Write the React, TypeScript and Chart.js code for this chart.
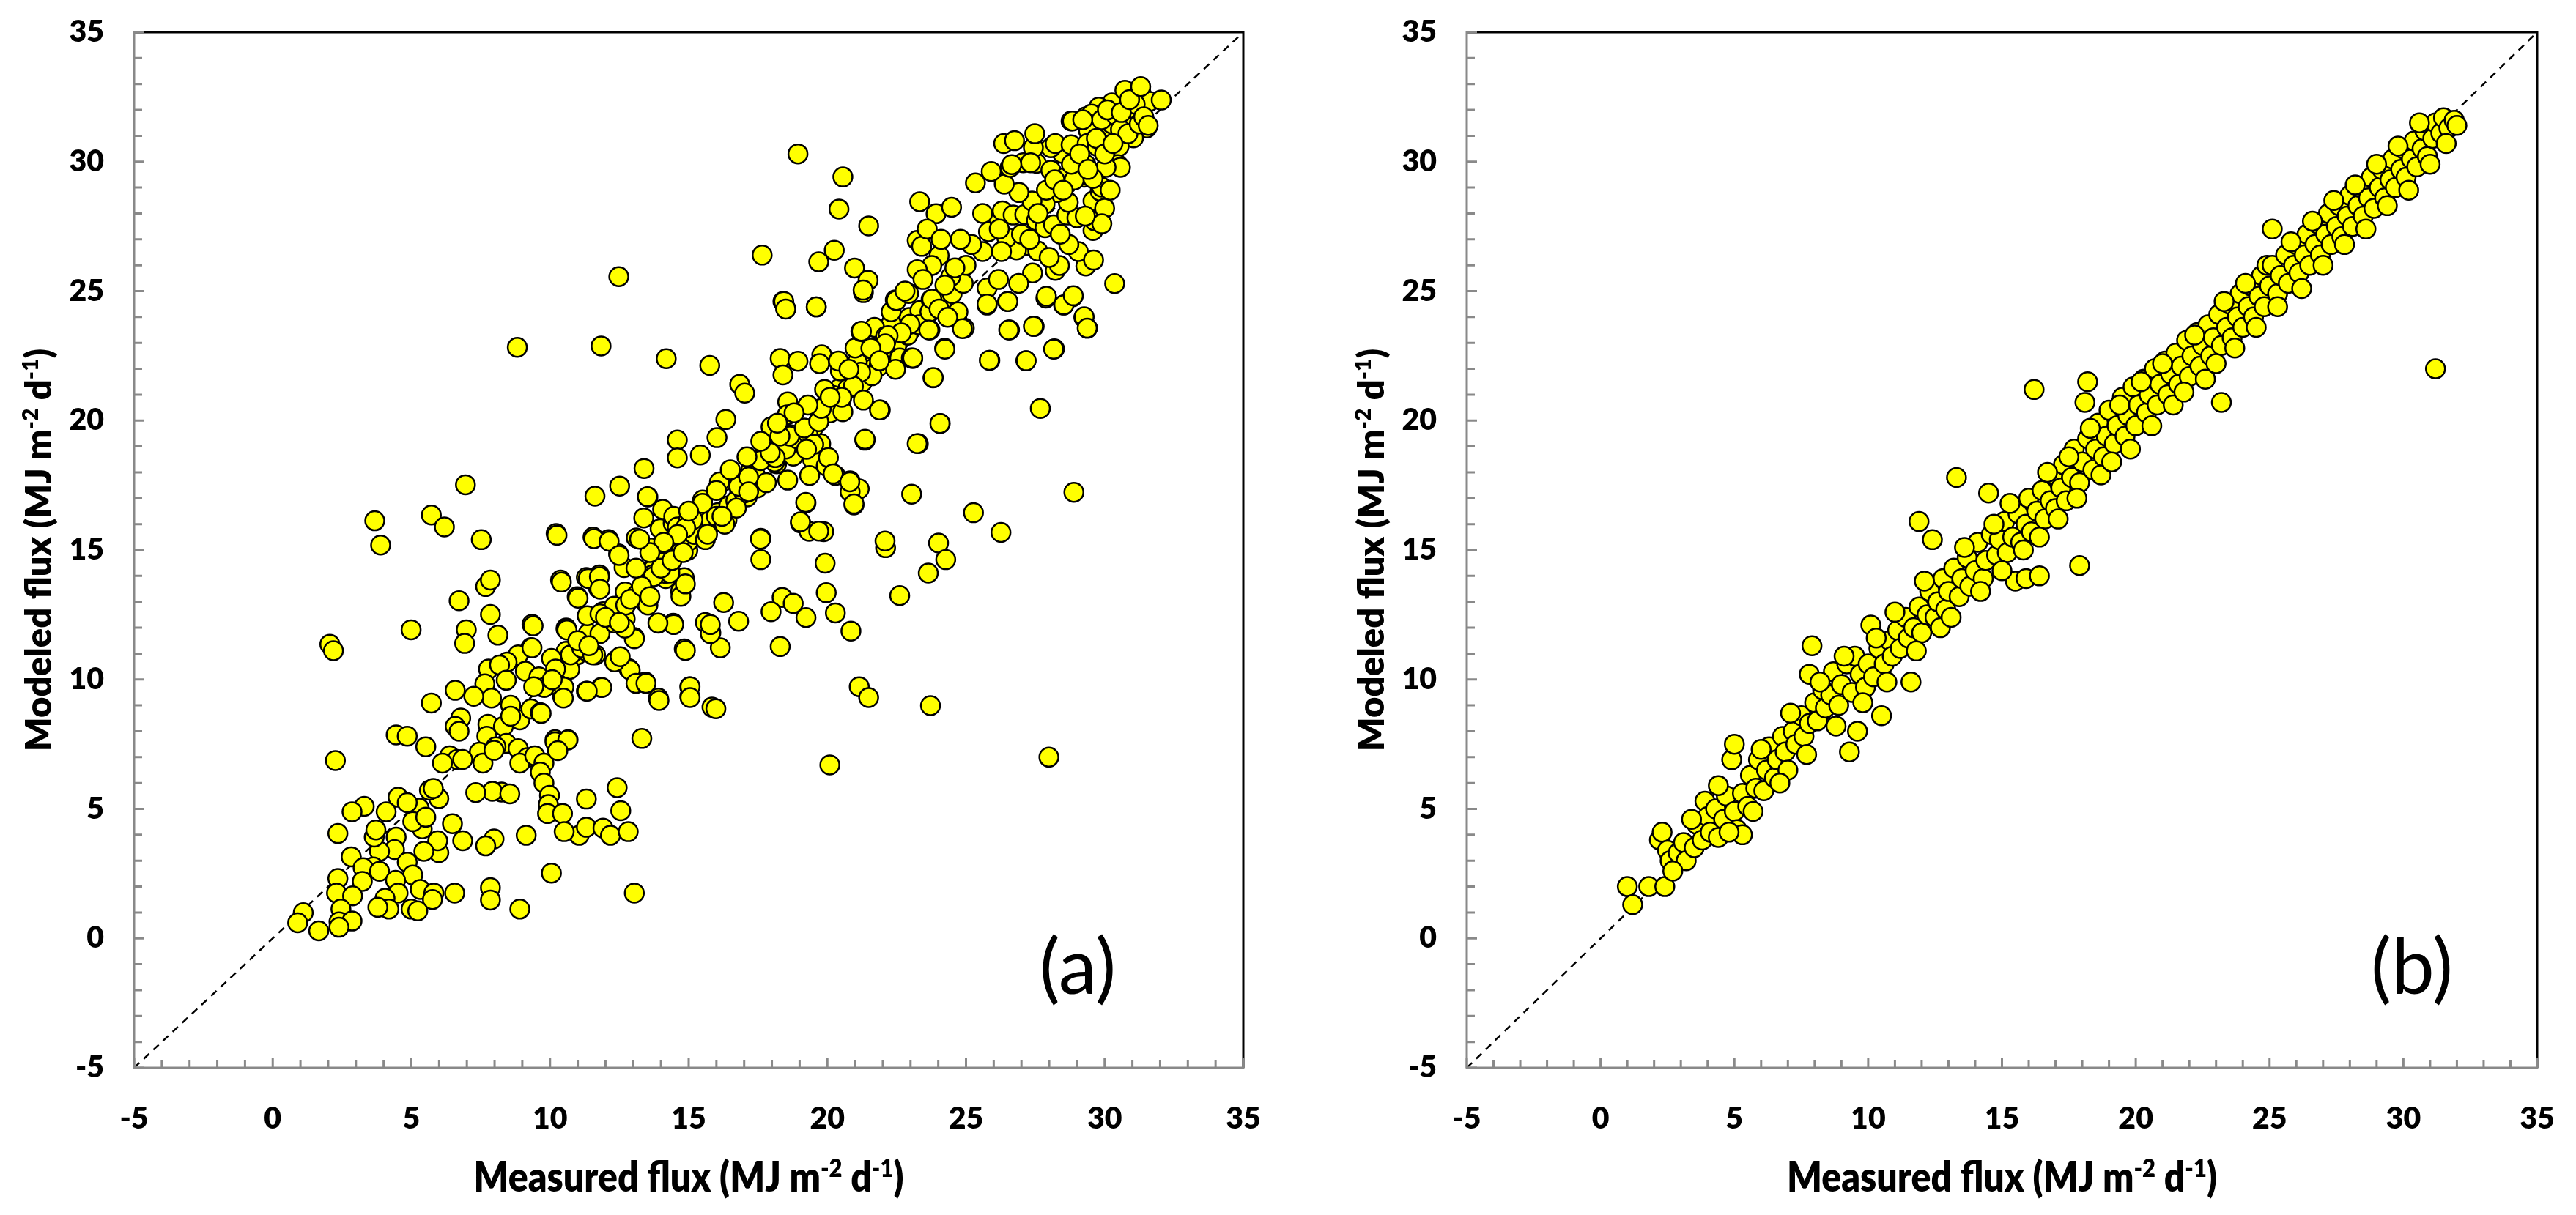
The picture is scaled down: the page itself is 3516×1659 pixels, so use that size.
import { useEffect, useRef } from "react";
import { Chart, registerables } from "chart.js";

Chart.register(...registerables);

// ---------- axis / text data ----------
const axisMin = -5;
const axisMax = 35;
const tickValues = [-5, 0, 5, 10, 15, 20, 25, 30, 35];
const minorTickValues = [
  -5, -4, -3, -2, -1, 0, 1, 2, 3, 4, 5, 6, 7, 8, 9, 10, 11, 12, 13, 14, 15, 16, 17, 18, 19, 20,
  21, 22, 23, 24, 25, 26, 27, 28, 29, 30, 31, 32, 33, 34, 35,
];
type Seg = { t: string; sup?: boolean };
const xTitleSegs: Seg[] = [
  { t: "Measured flux (MJ m" },
  { t: "-2", sup: true },
  { t: " d" },
  { t: "-1", sup: true },
  { t: ")" },
];
const yTitleSegs: Seg[] = [
  { t: "Modeled flux (MJ m" },
  { t: "-2", sup: true },
  { t: " d" },
  { t: "-1", sup: true },
  { t: ")" },
];
const panelLabels = ["(a)", "(b)"];

// ---------- panel (a): [measured, modeled] ----------
const lowA: [number, number][] = [
  [3.68,16.13],[3.89,15.19],[5.72,16.35],[6.19,15.89],[7.52,15.4],[10.22,15.64],[11.55,15.5],[12.11,15.4],
  [12.47,14.85],[12.67,14.32],[13.11,15.47],[13.38,16.24],[13.97,15.82],[14.44,16.03],[14.71,15.13],[14.97,14.99],
  [15.24,15.89],[15.57,15.96],[13.64,15.08],[14.04,14.32],[13.71,14.24],[14.17,13.9],[14.71,13.41],[14.84,13.93],
  [13.35,13.45],[13.44,12.97],[12.71,13.38],[10.38,13.84],[11.31,13.94],[11.78,14.04],[11.75,13.52],[10.98,13.2],
  [13.91,12.17],[14.44,12.17],[15.6,12.2],[15.8,11.8],[14.84,11.18],[10.58,11.99],[11.38,11.78],[11.91,12.62],
  [12.31,12.83],[12.71,12.34],[13.04,11.62],[12.38,10.74],[12.84,10.42],[13.11,9.9],[13.44,9.9],[13.91,9.28],
  [15.04,9.72],[15.04,9.35],[15.84,8.93],[13.31,7.72],[9.35,12.13],[9.31,11.23],[10.58,11.09],[10.98,10.95],
  [11.31,11.09],[11.64,10.95],[10.05,10.81],[10.31,10.04],[10.45,9.35],[10.71,10.39],[11.84,9.69],[11.31,9.55],
  [9.71,9.72],[8.85,10.95],[9.11,10.32],[8.45,10.67],[7.78,10.4],[8.18,10.56],[8.42,9.97],[8.58,9.0],
  [8.91,8.44],[9.31,8.86],[9.65,8.72],[7.65,9.83],[7.89,9.28],[6.58,9.58],[7.25,9.35],[5.72,9.09],
  [6.78,8.51],[6.58,8.19],[6.72,8.0],[7.76,8.27],[7.72,7.81],[8.32,8.19],[8.58,8.58],[8.42,7.53],
  [8.05,7.4],[8.85,7.33],[9.18,6.98],[8.91,6.77],[9.45,7.05],[9.78,6.77],[9.65,6.42],[9.78,6.0],
  [9.98,5.52],[9.94,5.17],[9.91,4.82],[10.18,7.67],[10.65,7.67],[10.25,7.33],[7.45,7.19],[7.58,6.77],
  [7.98,7.26],[6.38,7.05],[6.65,6.91],[6.85,6.91],[6.12,6.77],[5.52,7.4],[4.45,7.86],[4.85,7.81],
  [2.26,6.87],[2.06,11.36],[2.19,11.11],[4.99,11.92],[6.72,13.04],[6.98,11.92],[6.92,11.39],[8.12,11.71],
  [7.85,12.51],[7.68,13.59],[7.85,13.84],[12.42,5.82],[12.55,4.93],[11.31,5.38],[10.45,4.82],[11.05,3.98],
  [11.31,4.29],[10.51,4.12],[11.91,4.26],[12.18,3.98],[12.82,4.12],[10.05,2.52],[13.04,1.75],[8.91,1.13],
  [7.85,1.96],[7.85,1.48],[6.56,1.75],[7.98,3.84],[7.68,3.57],[6.85,3.77],[6.48,4.43],[9.14,3.98],
  [8.25,5.65],[7.92,5.68],[8.55,5.58],[7.32,5.63],[5.99,5.4],[5.99,3.31],[5.95,3.77],[5.28,5.03],
  [5.39,4.23],[5.05,4.51],[5.52,4.68],[5.65,5.72],[5.79,5.79],[4.52,5.45],[4.85,5.24],[4.09,4.89],
  [3.3,5.1],[2.86,4.89],[4.45,3.91],[4.39,3.43],[3.85,3.36],[3.66,3.91],[3.72,4.19],[2.35,4.05],
  [2.83,3.15],[4.85,2.94],[5.05,2.45],[5.45,3.36],[3.63,2.76],[3.26,2.73],[3.85,2.59],[4.43,2.24],
  [4.52,1.75],[4.05,1.55],[4.19,1.13],[3.79,1.2],[3.23,2.2],[5.32,1.89],[5.81,1.75],[5.76,1.5],
  [4.99,1.13],[5.23,1.06],[2.35,2.31],[2.3,1.75],[2.88,1.64],[2.46,1.13],[2.39,0.64],[2.86,0.67],
  [2.39,0.43],[1.1,0.99],[0.9,0.6],[1.66,0.29],[9.6,10.1],[10.0,9.8],[10.5,9.7],[10.2,10.4],
];

const midA: [number, number][] = [
  [11.84,22.88],[14.19,22.39],[15.76,22.13],[16.84,21.4],[17.02,21.06],[18.3,22.4],[18.4,21.76],[18.94,22.29],
  [19.8,22.54],[19.72,22.2],[18.57,20.72],[18.5,24.32],[18.4,24.6],[19.6,24.39],[21.3,24.94],[16.34,20.04],
  [17.97,19.76],[16.02,19.34],[14.59,19.25],[14.59,18.56],[15.42,18.67],[13.39,18.15],[12.51,17.47],[11.62,17.08],
  [13.53,17.05],[10.25,15.57],[10.41,13.76],[11.58,15.44],[12.13,15.34],[12.49,14.79],[11.38,13.9],[11.78,13.97],
  [11.8,13.49],[11.01,13.14],[9.39,12.07],[9.35,11.22],[11.34,12.46],[11.8,12.53],[10.58,11.94],
  [14.06,16.57],[14.46,16.3],[14.59,15.89],[14.99,16.16],[15.32,16.3],[15.58,15.89],[15.85,16.23],[16.38,16.16],
  [16.65,16.71],[16.84,17.26],[16.18,17.6],[16.82,17.47],[17.18,17.74],[17.48,17.4],[17.11,17.05],
  [17.64,18.49],[17.97,18.77],[18.17,18.33],[18.77,18.63],[19.23,18.97],[19.47,18.49],[19.76,19.11],
  [18.57,17.7],[19.36,17.88],[19.96,18.25],[20.29,17.88],[20.82,17.67],[21.15,17.36],[20.96,16.74],
  [19.23,16.82],[19.03,16.05],[19.34,15.72],[19.87,15.71],[17.6,15.45],[17.6,14.63],[19.92,14.49],
  [19.96,13.35],[20.29,12.57],[20.85,11.87],[18.37,13.17],[18.77,12.94],[17.97,12.62],[19.23,12.39],[18.3,11.27],
  [21.35,19.25],[23.28,19.11],[24.07,19.89],[23.81,21.65],[21.91,20.41],[23.04,17.16],[22.1,15.09],
  [24.01,15.27],[24.27,14.63],[23.64,14.11],[22.61,13.24],[25.27,16.44],[26.26,15.68],[28.89,17.23],[27.68,20.47],
  [25.86,22.33],[27.16,22.31],[28.19,22.77],[26.57,23.5],[27.46,23.64],[27.88,24.73],[28.52,24.46],[28.85,24.78],
  [29.25,23.98],[29.38,23.57],[26.5,24.6],[25.76,24.46],[24.94,23.57],[24.67,24.05],[24.23,22.79],[23.08,22.4],
  [23.7,23.5],[21.15,9.72],[21.49,9.3],[23.72,8.99],[27.99,7.0],[20.09,6.7],[15.98,8.87],[15.05,9.72],
  [15.05,9.3],[13.93,9.19],[16.14,11.22],[15.78,11.77],[15.78,12.12],[14.88,11.12],[16.8,12.25],[16.26,12.97],
  [13.04,11.57],[12.7,11.98],[12.89,10.36],[14.46,12.12],[13.89,12.18],[14.72,13.21],[14.88,13.69],[14.16,14.1],
  [13.69,14.04],[13.37,13.42],[12.33,10.68],[12.53,10.88],[11.87,9.69],[11.34,9.55],[13.1,9.85],[13.46,9.85],
  [9.79,9.69],[10.48,9.28],[9.68,8.69],[10.18,7.59],[10.64,7.66],[10.28,7.25],
  [9.41,9.72],[10.08,9.99],[10.74,10.95],[11.14,11.22],[11.54,10.95],[10.61,11.91],[11.8,11.77],[12.33,12.18],
  [12.73,12.87],[13.13,13.28],[13.53,12.87],[13.73,13.97],[14.06,14.52],[14.32,14.11],[14.72,14.93],[14.99,15.34],
  [15.38,15.89],[15.78,16.16],[16.05,16.44],[16.45,16.71],[16.84,17.53],[17.24,18.08],[17.77,18.77],[18.3,19.32],
  [18.7,19.45],[19.23,19.04],[19.5,19.73],[19.76,20.14],[20.03,20.83],[20.43,21.24],[20.82,21.92],[21.22,22.2],
  [21.62,22.75],[22.02,23.02],[22.42,23.57],[22.95,23.98],[23.34,24.25],[23.74,24.67],[24.14,24.8],
  [11.0,11.5],[11.4,11.3],[12.0,12.4],[12.5,12.2],[12.9,13.1],[13.3,13.6],[13.6,13.2],[14.0,14.3],
  [14.4,14.6],[14.8,14.9],[15.2,15.6],[15.6,15.4],[16.0,16.3],[16.3,16.0],[16.7,16.9],[17.0,17.2],
  [17.4,17.9],[17.8,17.6],[18.1,18.4],[18.5,18.9],[18.9,19.3],[19.3,19.5],[19.7,20.0],[20.1,20.3],
  [20.5,20.8],[20.9,21.3],[21.3,21.6],[21.7,22.0],[22.1,22.5],[22.5,22.9],[22.9,23.3],[23.3,23.7],
  [23.7,24.2],[24.1,24.5],[24.5,24.9],[24.9,25.3],
  [16.11,17.63],[16.81,17.46],[17.16,17.82],[17.59,18.45],[18.12,18.57],[18.64,19.4],[19.17,19.71],[19.69,19.96],
  [19.51,19.08],[20.04,18.57],[20.21,17.94],[20.82,17.25],[19.78,20.47],[20.21,20.97],[20.74,21.23],[21.26,21.48],
  [21.61,21.99],[21.08,22.24],[21.78,22.74],[22.13,23.12],[21.87,22.11],[22.3,23.75],[21.61,21.73],[20.47,21.92],
  [20.56,20.34],[19.25,18.89],[18.29,19.4],[18.55,20.22],[17.94,18.76],[16.72,16.62],[16.2,16.3],[15.68,15.61],
  [15.15,16.17],[15.5,16.93],[14.89,15.86],[17.16,17.25],
  [22.3,24.2],[21.7,23.6],[21.0,22.8],[20.4,22.3],[19.9,21.2],[19.3,20.6],[18.8,20.3],[18.2,19.9],[17.6,19.2],
  [17.1,18.6],[16.5,18.1],[16.0,17.3],[15.5,16.8],[15.0,16.5],[14.6,15.6],[14.1,15.3],[13.6,14.9],[13.1,14.3],
];

const highA: [number, number][] = [
  [18.94,30.3],[20.56,29.41],[20.42,28.17],[21.49,27.52],[17.65,26.39],[12.48,25.56],[20.25,26.58],[19.69,26.13],
  [20.98,25.89],[21.47,25.42],[21.29,25.04],[18.43,24.6],[18.5,24.31],[19.6,24.39],[22.45,24.66],[8.82,22.83],
  [21.21,23.44],[22.1,23.25],[6.95,17.52],[13.51,17.06],[19.22,16.84],[20.96,16.78],[19.03,16.09],[19.69,15.73],
  [20.81,17.63],[21.36,19.24],[22.08,15.35],[17.59,15.42],[13.23,15.42],
  [23.33,28.45],[23.92,27.99],[24.48,28.24],[23.24,26.96],[23.4,26.73],[24.03,26.37],[23.77,25.99],[23.24,25.83],
  [23.45,25.45],[24.45,25.56],[24.24,25.23],[23.77,24.69],[24.03,24.31],[24.71,24.2],[24.87,23.55],[24.34,23.99],
  [23.66,23.5],[22.49,24.64],[22.93,24.91],[22.98,23.72],[22.67,23.39],[22.19,23.28],[22.09,22.96],[21.57,22.79],
  [21.23,23.45],[22.61,22.42],[23.03,22.42],[22.46,21.98],[21.88,22.31],[21.2,21.87],[20.94,21.33],[20.78,21.98],
  [20.52,20.9],[20.1,20.9],[21.88,20.41],[21.3,20.79],[24.24,22.76],[23.08,22.42],[23.82,21.66],[24.06,19.89],
  [21.36,19.28],[23.24,19.11],[25.84,22.33],[27.17,22.31],[28.16,22.76],[26.54,23.5],[27.43,23.64],[30.36,25.29],
  [27.9,24.8],[28.53,24.47],[28.87,24.82],[29.26,24.01],[29.37,23.57],[28.22,25.8],[28.37,25.99],[29.32,25.97],
  [29.05,26.53],[28.71,26.8],[29.58,27.34],[29.63,27.72],[29.58,28.48],[29.84,28.86],[29.26,29.4],
  [27.2,26.77],[27.59,26.55],[26.82,26.59],[26.47,27.07],[26.28,26.53],[25.81,27.29],[26.17,27.83],[25.6,26.53],
  [25.76,25.12],[26.17,25.45],[26.51,24.6],[25.76,24.5],
  [26.31,28.1],[26.7,27.94],[27.12,27.96],[27.54,27.72],[27.85,27.45],[28.16,27.56],[28.64,27.94],[29.0,27.83],
  [28.69,28.43],[28.27,28.81],[27.85,28.37],[27.38,28.48],[26.91,28.81],[26.38,29.13],[26.59,29.78],[27.06,29.96],
  [27.54,29.94],[28.06,29.67],[28.58,29.4],[28.9,29.29],[29.32,29.89],[29.0,30.32],[28.48,30.32],[28.06,30.54],
  [27.43,30.54],[27.33,29.96],[25.34,29.18],[25.91,29.62],[26.36,30.7],[26.75,30.81],[27.48,31.08],[26.65,29.89],
  [28.22,30.7],[28.79,30.65],[28.79,31.57],[29.32,31.73],[29.63,31.51],[29.42,31.19],
  [29.37,30.7],[29.74,30.59],[30.05,31.13],[30.26,31.46],[30.57,31.51],[30.99,31.62],[31.2,31.95],[30.63,32.05],
  [30.26,32.27],[30.73,32.76],[31.31,32.65],[31.62,32.33],[32.04,32.38],[31.52,31.3],[31.04,30.92],[30.52,30.59],
  [30.47,29.89],[30.57,29.78],[30.05,29.78],[29.89,29.02],[29.58,29.35],
  [29.79,32.11],[29.53,31.84],[29.89,31.62],[30.42,31.78],[30.1,32.0],[30.89,32.27],[31.1,32.22],[30.57,31.24],
  [30.84,31.08],[31.25,31.46],[31.41,31.73],[31.57,31.4],[28.84,31.57],[29.21,31.62],
  [27.0,27.2],[27.3,27.0],[27.6,28.0],[27.9,28.9],[28.2,29.3],[28.5,28.9],[28.8,29.9],[29.1,30.3],[29.4,29.7],
  [29.7,30.9],[30.0,30.3],[30.3,30.7],[30.6,31.9],[30.9,32.4],[31.3,32.9],[30.0,28.2],[29.6,26.2],[29.9,27.6],
  [30.2,28.9],[29.3,27.9],[28.4,27.2],[28.0,26.3],[27.4,25.7],[26.9,25.3],[26.2,27.4],[25.6,28.0],[25.2,26.8],
  [24.8,27.0],[25.0,26.0],[24.6,25.9],[22.8,25.0],[23.6,27.4],[24.1,27.0],
];

// ---------- panel (b): [measured, modeled] ----------
const lowB: [number, number][] = [
  [1.0,2.0],[1.2,1.3],[1.8,2.0],[2.2,3.8],[2.3,4.1],[2.5,3.4],[2.4,2.0],[2.6,3.0],[2.9,3.3],[3.1,3.7],
  [3.2,3.0],[3.5,3.5],[3.6,4.4],[3.8,3.8],[3.9,5.3],[4.0,4.7],[4.1,4.1],[4.3,5.0],[4.4,3.9],[4.6,4.6],
  [4.7,5.5],[4.9,6.9],[5.0,7.5],[5.0,4.9],[5.1,4.2],[5.3,4.0],[5.3,5.6],[5.5,5.1],[5.6,6.3],[5.8,5.8],
  [5.9,6.9],[6.1,5.7],[6.2,6.5],[6.3,7.4],[6.5,6.2],[6.6,6.9],[6.8,7.8],[6.9,7.2],[7.0,6.5],[7.2,8.0],
  [7.3,7.5],[7.5,8.6],[7.6,7.8],[7.8,8.3],[7.9,11.3],[7.8,10.2],[8.0,9.1],[8.1,8.4],[8.3,9.6],[8.4,8.9],
  [8.6,9.4],[8.7,10.3],[8.9,9.0],[9.0,9.8],[9.2,10.6],[9.3,7.2],[9.4,9.5],[9.5,10.9],[9.6,8.0],[9.7,10.2],
  [9.9,9.7],[10.0,10.6],[10.1,12.1],[10.2,10.1],[10.4,11.2],[10.5,8.6],[10.6,10.6],[10.8,11.5],[10.9,10.9],[11.1,11.9],
  [11.2,11.2],[11.4,12.4],[11.5,11.6],[11.6,9.9],[11.7,12.0],[11.9,16.1],[11.9,12.8],[12.0,11.8],[12.2,12.5],[12.3,13.4],
  [12.4,15.4],[12.5,12.4],[12.6,13.0],[12.8,13.9],[12.9,12.7],
  [2.7,2.6],[3.4,4.6],[4.4,5.9],[4.8,4.1],[5.7,4.9],[6.0,7.3],[6.7,6.0],[7.1,8.7],[7.7,7.1],[8.2,9.9],
  [8.8,8.2],[9.1,10.9],[9.8,9.1],[10.3,11.6],[10.7,9.9],[11.0,12.6],[11.8,11.1],[12.1,13.8],[12.7,12.0],
];
const midB: [number, number][] = [
  [13.0,13.4],[13.2,14.3],[13.3,17.8],[13.4,13.2],[13.5,13.9],[13.7,14.7],[13.8,13.6],[14.0,14.2],[14.1,15.3],[14.3,13.9],
  [14.4,14.6],[14.5,17.2],[14.6,15.6],[14.8,14.8],[14.9,15.4],[15.1,16.1],[15.2,14.9],[15.4,15.5],[15.5,13.8],[15.6,16.4],
  [15.7,15.3],[15.9,16.0],[15.9,13.9],[16.0,17.0],[16.1,15.7],[16.2,21.2],[16.3,16.5],[16.4,14.0],[16.5,17.3],[16.6,16.2],
  [16.8,16.9],[16.9,17.9],[17.0,16.6],[17.2,17.4],[17.3,18.3],[17.4,16.9],[17.6,17.8],[17.7,18.9],[17.9,14.4],[17.9,17.6],
  [18.0,18.4],[18.1,20.7],[18.2,21.5],[18.2,19.3],[18.4,18.1],[18.5,18.9],[18.6,19.9],[18.8,18.6],[18.9,19.4],[19.0,20.4],
  [19.2,19.1],[19.3,19.8],[19.5,20.9],[19.6,19.4],[19.7,20.2],[19.9,21.3],[20.0,19.8],[20.1,20.6],[20.3,21.6],[20.4,20.3],
  [20.5,21.0],[20.7,22.0],[20.8,20.6],[20.9,21.4],[21.1,22.3],[21.2,21.0],[21.3,21.8],[21.5,22.6],[21.6,21.4],[21.7,22.1],
  [21.9,23.1],[22.0,21.7],[22.1,22.5],[22.3,23.4],[22.4,22.1],[22.5,22.9],[22.7,23.7],[22.8,22.5],[22.9,23.2],[23.1,24.1],
  [23.2,20.7],[23.2,22.9],[23.4,23.6],[23.5,24.5],[23.6,23.2],[23.8,24.0],[23.9,24.9],[24.0,23.6],[24.2,24.4],[24.3,25.2],
  [24.4,24.0],[24.6,24.8],[24.7,25.6],[24.8,24.4],[25.0,25.2],
  [13.1,12.4],[13.6,15.1],[14.2,13.4],[14.7,16.0],[15.0,14.2],[15.3,16.8],[15.8,15.0],[16.4,15.5],[16.7,18.0],[17.1,16.2],
  [17.5,18.6],[17.8,17.0],[18.3,19.7],[18.7,17.9],[19.1,18.4],[19.4,20.6],[19.8,18.9],[20.2,21.5],[20.6,19.8],[21.0,22.2],
  [21.4,20.6],[21.8,21.1],[22.2,23.3],[22.6,21.6],[23.0,22.2],[23.3,24.6],[23.7,22.8],[24.1,25.3],[24.5,23.6],[24.9,26.0],
];
const highB: [number, number][] = [
  [25.1,27.4],[25.1,26.0],[25.3,24.9],[25.4,25.6],[25.6,26.4],[25.7,25.3],[25.9,26.0],[26.0,26.8],[26.1,25.7],[26.3,26.4],
  [26.4,27.2],[26.5,26.0],[26.7,26.8],[26.8,27.6],[26.9,26.4],[27.1,27.2],[27.2,28.0],[27.3,26.8],[27.5,27.5],[27.6,28.3],
  [27.7,27.1],[27.9,27.9],[28.0,28.7],[28.1,27.5],[28.3,28.3],[28.4,29.0],[28.5,27.9],[28.7,28.6],[28.8,29.4],[28.9,28.2],
  [29.1,29.0],[29.2,29.7],[29.3,28.6],[29.5,29.3],[29.6,30.1],[29.7,29.0],[29.9,29.7],[30.0,30.5],[30.1,29.4],[30.3,30.1],
  [30.4,30.8],[30.5,29.8],[30.7,30.5],[30.8,31.2],[30.9,30.2],[31.1,30.9],[31.2,31.5],[31.2,22.0],[31.4,31.1],[31.5,31.7],
  [31.7,31.3],[31.9,31.6],[32.0,31.4],
  [25.3,24.4],[25.8,26.9],[26.2,25.1],[26.6,27.7],[27.0,26.0],[27.4,28.5],[27.8,26.8],[28.2,29.1],[28.6,27.4],[29.0,29.9],
  [29.4,28.3],[29.8,30.6],[30.2,28.9],[30.6,31.5],[31.0,29.9],[31.6,30.7],
];

const pointsA = [...lowA, ...midA, ...highA];
const pointsB = [...lowB, ...midB, ...highB];

// ---------- layout constants ----------
const PAGE_H = 1659;
const CANVAS_W = 1758;
const PLOT_TOP = 44;
const PLOT_BOTTOM = 1458;
const FONT = "Lato, 'Open Sans', sans-serif";
const AXIS_GRAY = "#898989";

type PanelCfg = {
  points: [number, number][];
  label: string;
  offsetX: number;
  areaLeft: number;
  areaRight: number;
  yTitleBaseline: number;
  labelX: number;
};

function drawRich(ctx: CanvasRenderingContext2D, segs: Seg[], size: number, cx: number, baseY: number) {
  const supSize = Math.round(size * 0.62);
  let total = 0;
  const widths = segs.map((s) => {
    ctx.font = `800 ${s.sup ? supSize : size}px ${FONT}`;
    const w = ctx.measureText(s.t).width;
    total += w;
    return w;
  });
  let x = cx - total / 2;
  ctx.textAlign = "left";
  ctx.textBaseline = "alphabetic";
  segs.forEach((s, i) => {
    ctx.font = `800 ${s.sup ? supSize : size}px ${FONT}`;
    ctx.fillText(s.t, x, baseY - (s.sup ? size * 0.36 : 0));
    x += widths[i];
  });
}

function Panel({ cfg }: { cfg: PanelCfg }) {
  const ref = useRef<HTMLCanvasElement>(null);
  useEffect(() => {
    const canvas = ref.current;
    if (!canvas) return;
    const decor = {
      id: "decor" + cfg.label,
      afterDraw(chart: any) {
        const ctx: CanvasRenderingContext2D = chart.ctx;
        const { left, right, top, bottom } = chart.chartArea;
        const xs = chart.scales.x;
        const ys = chart.scales.y;
        ctx.save();
        ctx.lineWidth = 3;
        ctx.strokeStyle = "#000";
        ctx.beginPath();
        ctx.moveTo(left, top);
        ctx.lineTo(right, top);
        ctx.lineTo(right, bottom);
        ctx.stroke();
        ctx.strokeStyle = AXIS_GRAY;
        ctx.beginPath();
        ctx.moveTo(left, top - 1.5);
        ctx.lineTo(left, bottom);
        ctx.lineTo(right + 1.5, bottom);
        ctx.stroke();
        ctx.beginPath();
        minorTickValues.forEach((v) => {
          const len = v % 5 === 0 ? 14 : 11;
          const py = ys.getPixelForValue(v);
          ctx.moveTo(left, py);
          ctx.lineTo(left + len, py);
          const px = xs.getPixelForValue(v);
          ctx.moveTo(px, bottom);
          ctx.lineTo(px, bottom - len);
        });
        ctx.stroke();
        ctx.fillStyle = "#000";
        // x title (slightly tall, like the reference)
        ctx.save();
        ctx.translate(0, 1627);
        ctx.scale(1, 1.12);
        drawRich(ctx, xTitleSegs, 50, (left + right) / 2, 0);
        ctx.restore();
        // y title
        ctx.save();
        ctx.translate(cfg.yTitleBaseline, (top + bottom) / 2);
        ctx.rotate(-Math.PI / 2);
        drawRich(ctx, yTitleSegs, 49, 0, 0);
        ctx.restore();
        ctx.font = `105px ${FONT}`;
        ctx.textAlign = "center";
        ctx.textBaseline = "middle";
        ctx.fillText(cfg.label, cfg.labelX, 1323);
        ctx.restore();
      },
    };
    const tickCfg = {
      font: { family: FONT, weight: 800 as any, size: 41 },
      color: "#000",
      autoSkip: false,
      maxRotation: 0,
    };
    const chart = new Chart(canvas, {
      type: "scatter",
      data: {
        datasets: [
          {
            data: cfg.points.map(([x, y]) => ({ x, y })),
            backgroundColor: "#FFFF00",
            borderColor: "#000",
            borderWidth: 2.5,
            pointRadius: 13,
            pointHoverRadius: 13,
          },
          {
            data: [
              { x: axisMin, y: axisMin },
              { x: axisMax, y: axisMax },
            ],
            showLine: true,
            borderColor: "#000",
            borderWidth: 2.5,
            borderDash: [10, 8],
            pointRadius: 0,
            fill: false,
          },
        ],
      },
      options: {
        responsive: false,
        animation: false,
        devicePixelRatio: 1,
        events: [],
        layout: { padding: { top: PLOT_TOP, right: CANVAS_W - cfg.areaRight, left: 0, bottom: 0 } },
        plugins: { legend: { display: false }, tooltip: { enabled: false } },
        scales: {
          x: {
            type: "linear",
            min: axisMin,
            max: axisMax,
            afterBuildTicks: (s: any) => {
              s.ticks = tickValues.map((v) => ({ value: v }));
            },
            afterFit: (s: any) => {
              s.height = PAGE_H - PLOT_BOTTOM;
              s.paddingLeft = 0;
              s.paddingRight = 0;
            },
            grid: { display: false, drawTicks: false },
            border: { display: false },
            ticks: { ...tickCfg, padding: 45 },
          },
          y: {
            type: "linear",
            min: axisMin,
            max: axisMax,
            afterBuildTicks: (s: any) => {
              s.ticks = tickValues.map((v) => ({ value: v }));
            },
            afterFit: (s: any) => {
              s.width = cfg.areaLeft;
              s.paddingTop = 0;
              s.paddingBottom = 0;
            },
            grid: { display: false, drawTicks: false },
            border: { display: false },
            ticks: { ...tickCfg, padding: 41 },
          },
        },
      },
      plugins: [decor],
    });
    return () => chart.destroy();
  }, [cfg]);
  return (
    <canvas
      ref={ref}
      width={CANVAS_W}
      height={PAGE_H}
      style={{ position: "absolute", left: cfg.offsetX, top: 0, width: CANVAS_W, height: PAGE_H }}
    />
  );
}

const panelA: PanelCfg = {
  points: pointsA,
  label: panelLabels[0],
  offsetX: 0,
  areaLeft: 183,
  areaRight: 1697,
  yTitleBaseline: 70,
  labelX: 1471,
};
const panelB: PanelCfg = {
  points: pointsB,
  label: panelLabels[1],
  offsetX: 1758,
  areaLeft: 244,
  areaRight: 1705,
  yTitleBaseline: 131,
  labelX: 1534,
};

export default function App() {
  return (
    <div style={{ position: "absolute", left: 0, top: 0, width: 3516, height: PAGE_H, background: "#fff", overflow: "hidden" }}>
      <Panel cfg={panelA} />
      <Panel cfg={panelB} />
    </div>
  );
}
